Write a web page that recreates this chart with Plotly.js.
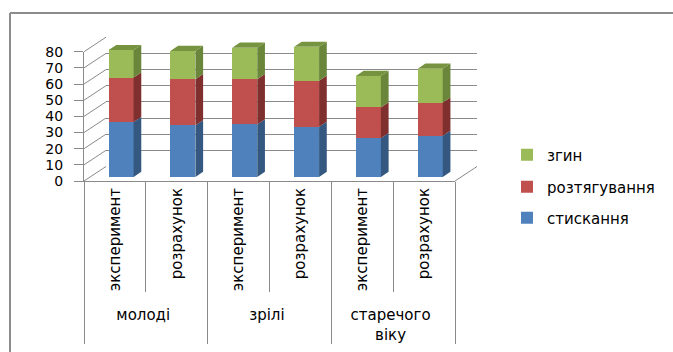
<!DOCTYPE html>
<html>
<head>
<meta charset="utf-8">
<script src="https://cdn.plot.ly/plotly-3.0.1.min.js"></script>
<style>html,body{margin:0;padding:0;background:#fff;}#chart{width:673px;height:352px;}</style>
</head>
<body>
<div id="chart"></div>
<script>
// ---- data ----
const groups = ['молоді', 'молоді', 'зрілі', 'зрілі', 'старечого<br>віку', 'старечого<br>віку'];
const subcats = ['эксперимент', 'розрахунок', 'эксперимент', 'розрахунок', 'эксперимент', 'розрахунок'];
const seriesNames = ['стискання', 'розтягування', 'згин'];
const compression = [34, 32, 32.5, 31, 24, 25.5];
const tension = [27.5, 28.5, 28, 28.5, 19, 20.5];
const bending = [17, 17.5, 19.5, 21, 19.5, 21];
const yTicks = [0, 10, 20, 30, 40, 50, 60, 70, 80];

// ---- geometry / style ----
const W = 673, H = 352;
const px = p => p / W;
const py = p => 1 - p / H;
const FRONT_L = 84, FRONT_R = 455, FRONT_Y0 = 181, FRONT_Y80 = 51.7;
const SC = (FRONT_Y0 - FRONT_Y80) / 80;          // px per unit
const DEPTH_X = 22, DEPTH_Y = 14.5;              // wall depth offset in px
const SLOT = (FRONT_R - FRONT_L) / 6;            // px per category
const BAR_F = 0.28, BAR_D = 0.35;                // bar position / depth as fraction of wall depth
const barY0 = FRONT_Y0 - BAR_F * DEPTH_Y;
const barCx0 = FRONT_L + SLOT / 2 + BAR_F * DEPTH_X;
const BAR_W = 25 / SLOT;
const ddx = BAR_D * DEPTH_X / SLOT;
const ddy = BAR_D * DEPTH_Y / SC;
const Y3MAX = 95, X3MIN = -0.5, X3MAX = 6.2;
const GRID = '#8a8a8a';

const front = ['#4F81BD', '#C0504D', '#9BBB59'];
const side = ['#34587f', '#7f302e', '#69863a'];
const topCol = '#76943f';

const vals = [compression, tension, bending];
const idx = compression.map((_, i) => i);

const traces = [];
// invisible trace to set up the multicategory front axis
traces.push({type: 'scatter', x: [groups, subcats], y: compression, mode: 'lines',
  line: {width: 0}, opacity: 0, hoverinfo: 'skip', showlegend: false, xaxis: 'x', yaxis: 'y'});
// invisible trace for the back wall subplot
traces.push({type: 'scatter', x: [0.5], y: [0], mode: 'lines', line: {width: 0}, opacity: 0,
  hoverinfo: 'skip', showlegend: false, xaxis: 'x2', yaxis: 'y2'});

// bar front faces
const legendIds = ['legend3', 'legend2', 'legend'];
vals.forEach((v, s) => {
  traces.push({type: 'bar', x: idx, y: v, width: BAR_W, name: seriesNames[s],
    marker: {color: front[s], line: {width: 0}}, xaxis: 'x3', yaxis: 'y3',
    legend: legendIds[s], hoverinfo: 'y'});
});

// side faces
let base = idx.map(() => 0);
vals.forEach((v, s) => {
  const xs = [], ys = [];
  idx.forEach(i => {
    const b = base[i], t = base[i] + v[i], xr = i + BAR_W / 2;
    xs.push(xr, xr + ddx, xr + ddx, xr, xr, null);
    ys.push(b, b + ddy, t + ddy, t, b, null);
  });
  traces.push({type: 'scatter', x: xs, y: ys, mode: 'lines', fill: 'toself',
    fillcolor: side[s], line: {width: 0, color: side[s]}, hoverinfo: 'skip',
    showlegend: false, xaxis: 'x3', yaxis: 'y3'});
  base = base.map((b, i) => b + v[i]);
});
// top faces
{
  const xs = [], ys = [];
  idx.forEach(i => {
    const t = base[i], xl = i - BAR_W / 2, xr = i + BAR_W / 2;
    xs.push(xl, xr, xr + ddx, xl + ddx, xl, null);
    ys.push(t, t, t + ddy, t + ddy, t, null);
  });
  traces.push({type: 'scatter', x: xs, y: ys, mode: 'lines', fill: 'toself',
    fillcolor: topCol, line: {width: 0, color: topCol}, hoverinfo: 'skip',
    showlegend: false, xaxis: 'x3', yaxis: 'y3'});
}

// shapes: diagonal grid lines, floor edge, frame
const shapes = [];
yTicks.forEach(v => {
  const y = FRONT_Y0 - v * SC;
  shapes.push({type: 'line', xref: 'paper', yref: 'paper',
    x0: px(FRONT_L), y0: py(y), x1: px(FRONT_L + DEPTH_X), y1: py(y - DEPTH_Y),
    line: {color: GRID, width: 1}});
});
shapes.push({type: 'line', xref: 'paper', yref: 'paper',
  x0: px(FRONT_R), y0: py(FRONT_Y0), x1: px(FRONT_R + DEPTH_X), y1: py(FRONT_Y0 - DEPTH_Y),
  line: {color: GRID, width: 1}});
shapes.push({type: 'line', xref: 'paper', yref: 'paper', x0: px(10), y0: py(13), x1: px(10), y1: 0,
  line: {color: '#8c8c8c', width: 2}});
shapes.push({type: 'line', xref: 'paper', yref: 'paper', x0: px(10), y0: py(13), x1: 1, y1: py(13),
  line: {color: '#8c8c8c', width: 2}});

const legendBase = {xanchor: 'left', yanchor: 'middle', x: px(507), bgcolor: 'rgba(0,0,0,0)',
  font: {size: 15, color: '#000'}, borderwidth: 0};

const layout = {
  width: W, height: H,
  margin: {l: 0, r: 0, t: 0, b: 0},
  paper_bgcolor: '#fff', plot_bgcolor: 'rgba(0,0,0,0)',
  font: {family: 'DejaVu Sans, sans-serif', size: 15, color: '#000'},
  barmode: 'stack', showlegend: true,
  xaxis: {type: 'multicategory', domain: [px(FRONT_L), px(FRONT_R)], anchor: 'y',
    range: [-0.5, 5.5], autorange: false,
    showline: true, linecolor: GRID, linewidth: 1, ticks: 'outside', tickson: 'boundaries',
    ticklen: 110, tickcolor: GRID, tickwidth: 1, tickangle: -90, showdividers: true,
    dividercolor: GRID, dividerwidth: 1, showgrid: false, zeroline: false,
    tickfont: {size: 15, color: '#000'}, fixedrange: true},
  yaxis: {domain: [py(FRONT_Y0), py(FRONT_Y80)], range: [0, 80], tickvals: yTicks, anchor: 'x',
    showline: true, linecolor: GRID, linewidth: 1, ticks: 'outside', ticklen: 9, tickcolor: GRID,
    showgrid: false, zeroline: false, ticklabelstandoff: 8, tickfont: {size: 14, color: '#000'},
    fixedrange: true},
  xaxis2: {domain: [px(FRONT_L + DEPTH_X), px(FRONT_R + DEPTH_X)], range: [0, 1], visible: false,
    anchor: 'y2', fixedrange: true},
  yaxis2: {domain: [py(FRONT_Y0 - DEPTH_Y), py(FRONT_Y80 - DEPTH_Y)], range: [0, 80], tickvals: yTicks,
    showgrid: true, gridcolor: GRID, gridwidth: 1, showticklabels: false, ticks: '',
    zeroline: false, showline: false, anchor: 'x2', fixedrange: true},
  xaxis3: {domain: [px(barCx0 + X3MIN * SLOT), px(barCx0 + X3MAX * SLOT)], range: [X3MIN, X3MAX],
    visible: false, anchor: 'y3', fixedrange: true},
  yaxis3: {domain: [py(barY0), py(barY0 - Y3MAX * SC)], range: [0, Y3MAX], visible: false,
    anchor: 'x3', fixedrange: true},
  legend: Object.assign({}, legendBase, {y: py(155)}),
  legend2: Object.assign({}, legendBase, {y: py(187)}),
  legend3: Object.assign({}, legendBase, {y: py(218)}),
  shapes: shapes
};

Plotly.newPlot('chart', traces, layout, {displayModeBar: false, staticPlot: true});
</script>
</body>
</html>
